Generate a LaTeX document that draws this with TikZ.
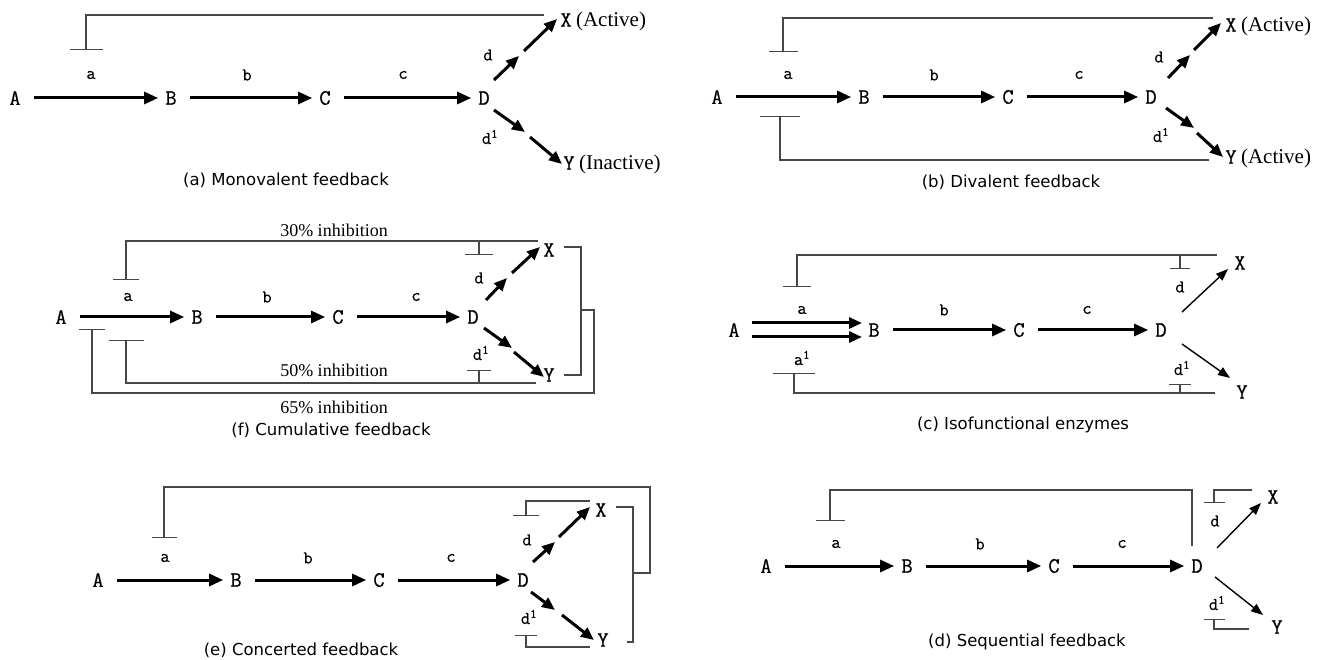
\documentclass[tikz,border=0pt]{standalone}
\usepackage{fontspec}
\usetikzlibrary{arrows.meta,calc}
\newfontfamily\seriff{Liberation Serif}
\newfontfamily\capf{DejaVu Sans}
\newfontfamily\monof[BoldFont={Latin Modern Mono}, BoldFeatures={FakeBold=0.5}]{Latin Modern Mono}
\tikzset{
 L/.style={font=\monof\bfseries\fontsize{22}{22}\selectfont, inner sep=0pt},
 el/.style={font=\monof\bfseries\fontsize{18}{18}\selectfont, inner sep=0pt},
 wd/.style={font=\seriff\fontsize{21}{21}\selectfont, inner sep=0pt, anchor=base west},
 pct/.style={font=\seriff\fontsize{18}{18}\selectfont, inner sep=0pt},
 capt/.style={font=\capf\fontsize{16.5}{16.5}\selectfont, inner sep=0pt},
 arr/.style={line width=3pt, -{Triangle[length=14pt,width=12pt]}, shorten <=13pt, shorten >=7pt},
 sarr/.style={line width=3pt, -{Triangle[length=13pt,width=11pt]}},
 tarr/.style={line width=1.4pt, -{Triangle[length=12pt,width=9pt]}},
 fb/.style={line width=1.4pt, draw=black!72},
}
\begin{document}
\begin{tikzpicture}[x=1pt,y=-1pt]
\useasboundingbox (0,0) rectangle (1328,660);
\fill[white] (0,0) rectangle (1328,660);

% ---------------- (a) Monovalent feedback
\node[L] (Aa) at (15,98) {A};
\node[L] (Ba) at (171,98) {B};
\node[L] (Ca) at (325,98) {C};
\node[L] (Da) at (484,98) {D};
\node[L] (Xa) at (566,20) {X};
\node[L] (Ya) at (569,163) {Y};
\node[wd] at ($(Xa.base east)+(4,0)$) {(Active)};
\node[wd] at ($(Ya.base east)+(4,0)$) {(Inactive)};
\draw[arr] (Aa) -- (Ba);
\draw[arr] (Ba) -- (Ca);
\draw[arr] (Ca) -- (Da);
\node[el] at (91,75) {a};
\node[el] at (247,75) {b};
\node[el] at (403,75) {c};
\node[el] at (488,55) {d};
\node[el] at (490,137) {d\textsuperscript{1}};
\draw[sarr] ($(Da)+(10,-18)$) -- ($(Da)+(35,-42)$);
\draw[sarr] ($(Da)+(40,-47)$) -- ($(Da)+(73,-79)$);
\draw[sarr] ($(Da)+(10,12)$) -- ($(Da)+(41,34)$);
\draw[sarr] ($(Da)+(46,39)$) -- ($(Da)+(78,66)$);
\coordinate (fa1) at (544,15); \coordinate (fa2) at (86,50);
\draw[fb,-{Bar[width=33pt]}] (fa1) -| (fa2);
\node[capt] at (286,180) {(a) Monovalent feedback};

% ---------------- (b) Divalent feedback
\node[L] (Ab) at (717,97) {A};
\node[L] (Bb) at (864,97) {B};
\node[L] (Cb) at (1008,97) {C};
\node[L] (Db) at (1151,97) {D};
\node[L] (Xb) at (1231,25) {X};
\node[L] (Yb) at (1231,157) {Y};
\node[wd] at ($(Xb.base east)+(4,0)$) {(Active)};
\node[wd] at ($(Yb.base east)+(4,0)$) {(Active)};
\draw[arr] (Ab) -- (Bb);
\draw[arr] (Bb) -- (Cb);
\draw[arr] (Cb) -- (Db);
\node[el] at (788,75) {a};
\node[el] at (934,75) {b};
\node[el] at (1079,75) {c};
\node[el] at (1159,57) {d};
\node[el] at (1161,135) {d\textsuperscript{1}};
\draw[sarr] ($(Db)+(17,-19)$) -- ($(Db)+(39,-42)$);
\draw[sarr] ($(Db)+(43,-47)$) -- ($(Db)+(70,-74)$);
\draw[sarr] ($(Db)+(15,11)$) -- ($(Db)+(43,31)$);
\draw[sarr] ($(Db)+(46,36)$) -- ($(Db)+(72,60)$);
\coordinate (fb1) at (1213,18); \coordinate (fb2) at (783,52);
\draw[fb,-{Bar[width=29pt]}] (fb1) -| (fb2);
\coordinate (fb3) at (1209,160); \coordinate (fb4) at (780,116);
\draw[fb,-{Bar[width=40pt]}] (fb3) -| (fb4);
\node[capt] at (1011,182) {(b) Divalent feedback};

% ---------------- (f) Cumulative feedback
\node[L] (Af) at (61,317) {A};
\node[L] (Bf) at (197,317) {B};
\node[L] (Cf) at (338,317) {C};
\node[L] (Df) at (473,317) {D};
\node[L] (Xf) at (549,250) {X};
\node[L] (Yf) at (549,375) {Y};
\draw[arr] (Af) -- (Bf);
\draw[arr] (Bf) -- (Cf);
\draw[arr] (Cf) -- (Df);
\node[el] at (128,297) {a};
\node[el] at (267,297) {b};
\node[el] at (416,297) {c};
\node[el] at (479,278) {d};
\node[el] at (481,353) {d\textsuperscript{1}};
\draw[sarr] ($(Df)+(13,-17)$) -- ($(Df)+(34,-39)$);
\draw[sarr] ($(Df)+(39,-44)$) -- ($(Df)+(67,-70)$);
\draw[sarr] ($(Df)+(11,11)$) -- ($(Df)+(39,31)$);
\draw[sarr] ($(Df)+(41,35)$) -- ($(Df)+(71,60)$);
\coordinate (ff1) at (538,241); \coordinate (ff2) at (126,280);
\draw[fb,-{Bar[width=26pt]}] (ff1) -| (ff2);
\coordinate (ff3) at (479,241); \coordinate (ff4) at (479,255);
\draw[fb,-{Bar[width=28pt]}] (ff3) -- (ff4);
\coordinate (ff5) at (536,383); \coordinate (ff6) at (126,340);
\draw[fb,-{Bar[width=35pt]}] (ff5) -| (ff6);
\coordinate (ff7) at (479,383); \coordinate (ff8) at (479,370);
\draw[fb,-{Bar[width=24pt]}] (ff7) -- (ff8);
\coordinate (ff9) at (564,247); \coordinate (ff10) at (564,375);
\draw[fb] (ff9) -- (581,247) -- (581,375) -- (ff10);
\coordinate (ff11) at (581,310); \coordinate (ff12) at (92,329);
\draw[fb,-{Bar[width=26pt]}] (ff11) -- (594,310) -- (594,393) -| (ff12);
\node[pct] at (334,230) {30\% inhibition};
\node[pct] at (334,370) {50\% inhibition};
\node[pct] at (334,407) {65\% inhibition};
\node[capt] at (331,430) {(f) Cumulative feedback};

% ---------------- (c) Isofunctional enzymes
\node[L] (Ac) at (734,330) {A};
\node[L] (Bc) at (874,330) {B};
\node[L] (Cc) at (1019,330) {C};
\node[L] (Dc) at (1161,330) {D};
\node[L] (Xc) at (1240,263) {X};
\node[L] (Yc) at (1242,392) {Y};
\draw[sarr] ($(Ac)+(18,-7)$) -- ($(Bc)+(-12,-7)$);
\draw[sarr] ($(Ac)+(18,7)$) -- ($(Bc)+(-12,7)$);
\draw[arr] (Bc) -- (Cc);
\draw[arr] (Cc) -- (Dc);
\node[el] at (802,310) {a};
\node[el] at (802,358) {a\textsuperscript{1}};
\node[el] at (944,310) {b};
\node[el] at (1087,310) {c};
\node[el] at (1180,287) {d};
\node[el] at (1182,368) {d\textsuperscript{1}};
\draw[tarr] ($(Dc)+(21,-18)$) -- ($(Dc)+(67,-61)$);
\draw[tarr] ($(Dc)+(21,14)$) -- ($(Dc)+(69,48)$);
\coordinate (fc1) at (1217,255); \coordinate (fc2) at (797,287);
\draw[fb,-{Bar[width=28pt]}] (fc1) -| (fc2);
\coordinate (fc3) at (1180,255); \coordinate (fc4) at (1180,269);
\draw[fb,-{Bar[width=20pt]}] (fc3) -- (fc4);
\coordinate (fc5) at (1215,393); \coordinate (fc6) at (794,373);
\draw[fb,-{Bar[width=42pt]}] (fc5) -| (fc6);
\coordinate (fc7) at (1180,393); \coordinate (fc8) at (1180,384);
\draw[fb,-{Bar[width=22pt]}] (fc7) -- (fc8);
\node[capt] at (1023,425) {(c) Isofunctional enzymes};

% ---------------- (e) Concerted feedback
\node[L] (Ae) at (98,580) {A};
\node[L] (Be) at (236,580) {B};
\node[L] (Ce) at (379,580) {C};
\node[L] (De) at (523,580) {D};
\node[L] (Xe) at (601,510) {X};
\node[L] (Ye) at (603,640) {Y};
\draw[arr] (Ae) -- (Be);
\draw[arr] (Be) -- (Ce);
\draw[arr] (Ce) -- (De);
\node[el] at (165,558) {a};
\node[el] at (308,558) {b};
\node[el] at (451,558) {c};
\node[el] at (527,540) {d};
\node[el] at (529,617) {d\textsuperscript{1}};
\draw[sarr] ($(De)+(10,-18)$) -- ($(De)+(32,-38)$);
\draw[sarr] ($(De)+(36,-43)$) -- ($(De)+(67,-73)$);
\draw[sarr] ($(De)+(8,12)$) -- ($(De)+(32,30)$);
\draw[sarr] ($(De)+(39,35)$) -- ($(De)+(71,60)$);
\coordinate (fe1) at (616,507); \coordinate (fe2) at (627,642);
\draw[fb] (fe1) -- (633,507) -- (633,642) -- (fe2);
\coordinate (fe3) at (633,573); \coordinate (fe4) at (164,538);
\draw[fb,-{Bar[width=25pt]}] (fe3) -- (650,573) |- (164,487) -- (fe4);
\coordinate (fe5) at (590,501); \coordinate (fe6) at (526,516);
\draw[fb,-{Bar[width=26pt]}] (fe5) -| (fe6);
\coordinate (fe7) at (590,647); \coordinate (fe8) at (526,635);
\draw[fb,-{Bar[width=22pt]}] (fe7) -| (fe8);
\node[capt] at (301,650) {(e) Concerted feedback};

% ---------------- (d) Sequential feedback
\node[L] (Ad) at (766,566) {A};
\node[L] (Bd) at (907,566) {B};
\node[L] (Cd) at (1054,566) {C};
\node[L] (Dd) at (1197,566) {D};
\node[L] (Xd) at (1273,497) {X};
\node[L] (Yd) at (1277,627) {Y};
\draw[arr] (Ad) -- (Bd);
\draw[arr] (Bd) -- (Cd);
\draw[arr] (Cd) -- (Dd);
\node[el] at (836,544) {a};
\node[el] at (980,544) {b};
\node[el] at (1122,544) {c};
\node[el] at (1215,521) {d};
\node[el] at (1217,603) {d\textsuperscript{1}};
\draw[tarr] ($(Dd)+(20,-18)$) -- ($(Dd)+(64,-63)$);
\draw[tarr] ($(Dd)+(18,11)$) -- ($(Dd)+(66,49)$);
\coordinate (fd1) at (1192,546); \coordinate (fd2) at (830,521);
\draw[fb,-{Bar[width=29pt]}] (fd1) |- (830,490) -- (fd2);
\coordinate (fd3) at (1252,490); \coordinate (fd4) at (1214,503);
\draw[fb,-{Bar[width=21pt]}] (fd3) -| (fd4);
\coordinate (fd5) at (1249,629); \coordinate (fd6) at (1214,619);
\draw[fb,-{Bar[width=21pt]}] (fd5) -| (fd6);
\node[capt] at (1027,642) {(d) Sequential feedback};
\end{tikzpicture}
\end{document}
